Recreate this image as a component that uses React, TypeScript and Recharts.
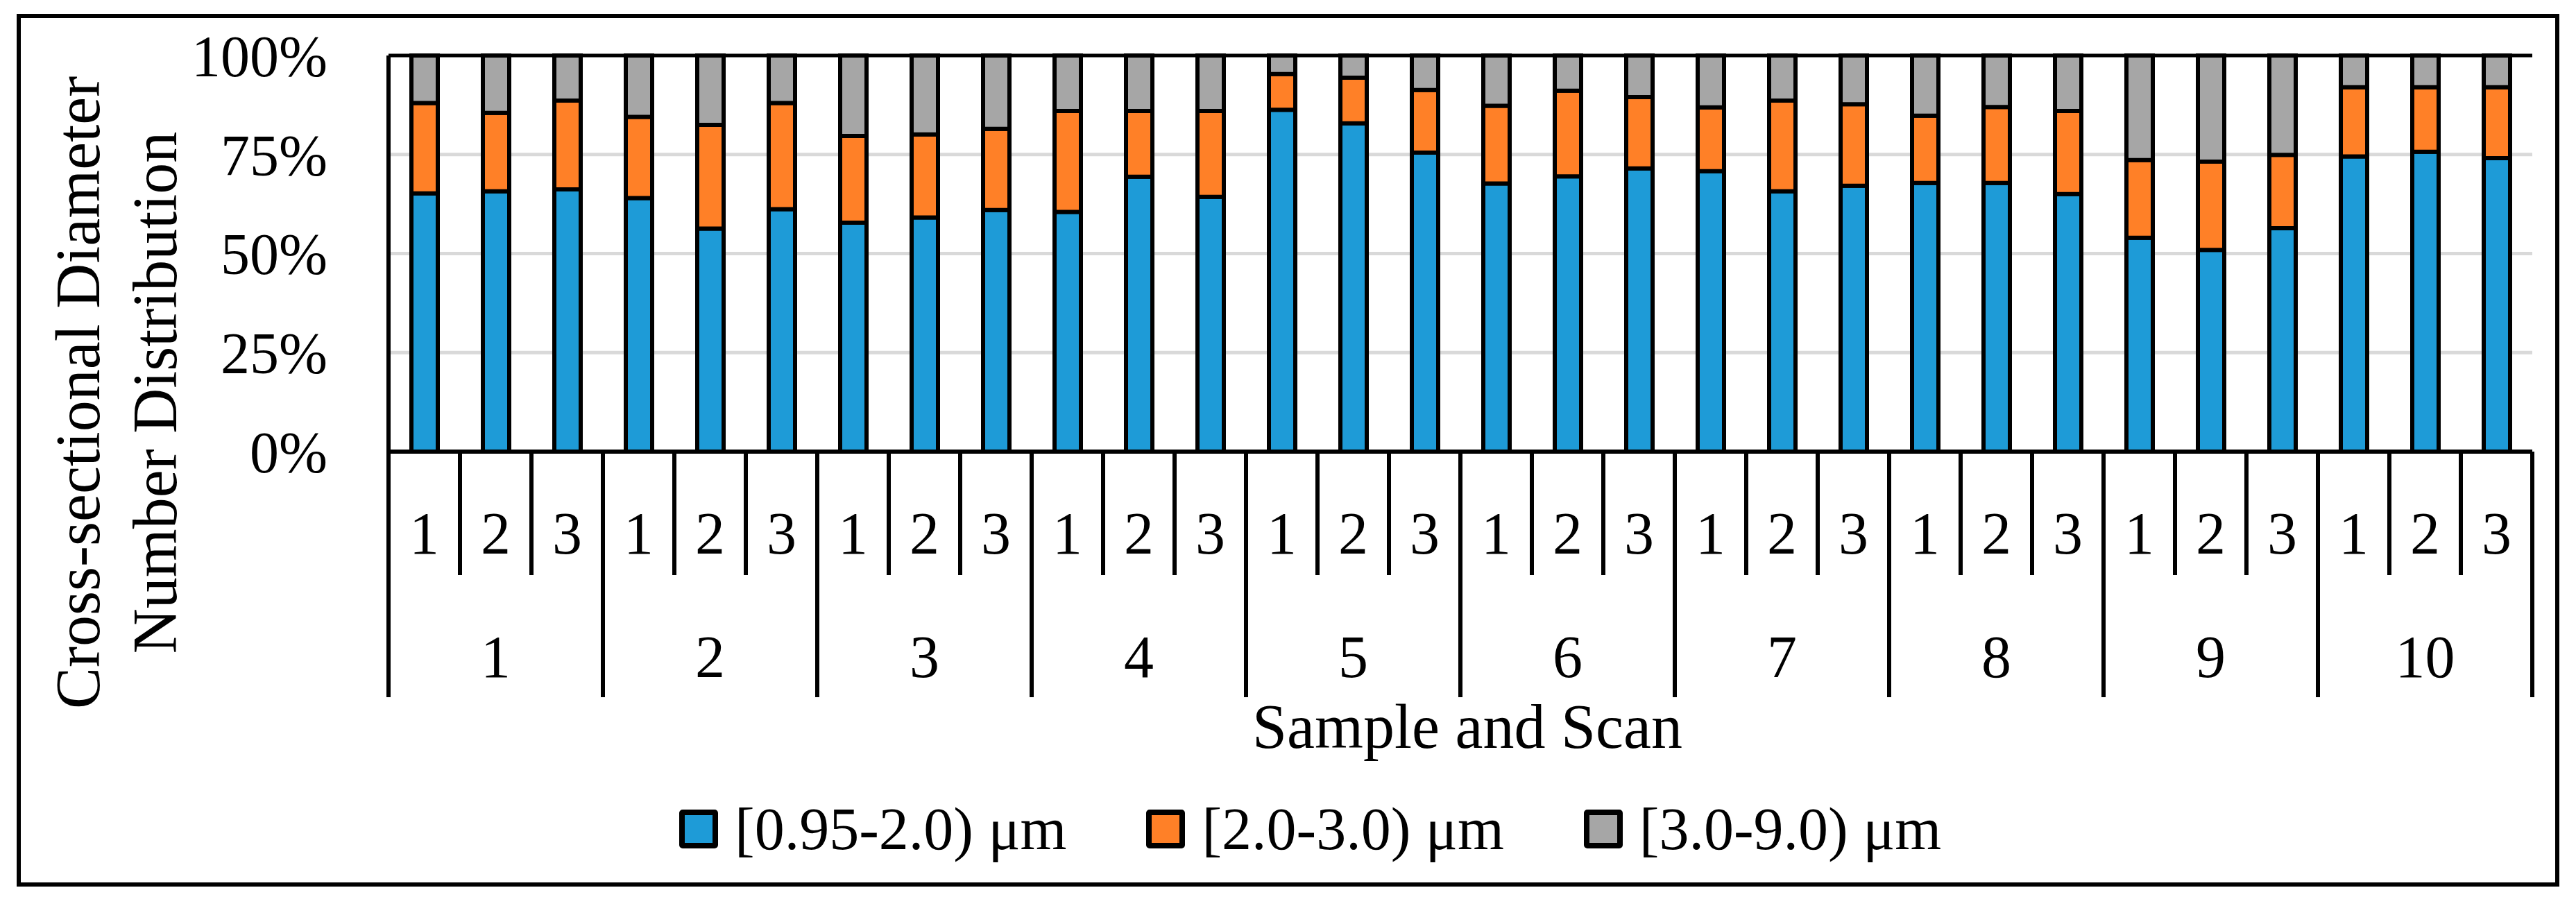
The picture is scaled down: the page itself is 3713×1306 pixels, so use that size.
import React from 'react';
import { BarChart, Bar, XAxis, YAxis, CartesianGrid, Legend, ReferenceLine } from 'recharts';

// categories
const SAMPLES = ['1', '2', '3', '4', '5', '6', '7', '8', '9', '10'];
const SCANS = ['1', '2', '3'];

// share of particles per size class, read per bar (sample 1 scan 1 ... sample 10 scan 3)
const SMALL = [
  65.2, 65.7, 66.2, 64.0, 56.3, 61.2, 57.8, 59.1, 61.0, 60.5,
  69.4, 64.3, 86.3, 82.9, 75.5, 67.7, 69.5, 71.5, 70.8, 65.7,
  67.1, 67.8, 67.8, 65.0, 54.0, 50.9, 56.4, 74.5, 75.7, 74.1,
];
const MEDIUM = [
  22.8, 19.8, 22.4, 20.5, 26.2, 26.8, 21.9, 21.0, 20.5, 25.5,
  16.6, 21.7, 9.0, 11.5, 15.8, 19.6, 21.6, 18.0, 16.1, 22.9,
  20.6, 17.0, 19.2, 21.0, 19.6, 22.3, 18.5, 17.5, 16.3, 17.9,
];
const LARGE = [
  12.0, 14.5, 11.4, 15.5, 17.5, 12.0, 20.3, 19.9, 18.5, 14.0,
  14.0, 14.0, 4.7, 5.6, 8.7, 12.7, 8.9, 10.5, 13.1, 11.4,
  12.3, 15.2, 13.0, 14.0, 26.4, 26.8, 25.1, 8.0, 8.0, 8.0,
];

const SERIES = [
  { key: 'small', name: '[0.95-2.0) μm', color: '#1E9BD7' },
  { key: 'medium', name: '[2.0-3.0) μm', color: '#FF8027' },
  { key: 'large', name: '[3.0-9.0) μm', color: '#A6A6A6' },
];

const Y_TICKS = [0, 0.25, 0.5, 0.75, 1];
const Y_TITLE = ['Cross-sectional Diameter', 'Number Distribution'];
const X_TITLE = 'Sample and Scan';

const data = SAMPLES.flatMap((sample, si) =>
  SCANS.map((scan, ci) => {
    const i = si * 3 + ci;
    return {
      key: `${sample}-${scan}`,
      sample,
      scan,
      small: SMALL[i],
      medium: MEDIUM[i],
      large: LARGE[i],
    };
  })
);

const W = 3713;
const H = 1306;
const FONT = '"Liberation Serif", serif';
const PLOT_LEFT = 560;
const PLOT_RIGHT = 3650;
const PLOT_TOP = 80;
const PLOT_BOTTOM = 651;
const BAND = (PLOT_RIGHT - PLOT_LEFT) / data.length;

const ScanTick = (props: any) => {
  const { x, payload } = props;
  const index = props.index ?? payload.index;
  const left = x - BAND / 2;
  const row = data[index];
  return (
    <g>
      <line x1={left} x2={left} y1={PLOT_BOTTOM} y2={index % 3 === 0 ? 1005 : 829} stroke="#000" strokeWidth={6} />
      {index === data.length - 1 && (
        <line x1={x + BAND / 2} x2={x + BAND / 2} y1={PLOT_BOTTOM} y2={1005} stroke="#000" strokeWidth={6} />
      )}
      <text x={x} y={798} textAnchor="middle" fontSize={86} fontFamily={FONT} fill="#000">
        {row.scan}
      </text>
      {index % 3 === 1 && (
        <text x={x} y={976} textAnchor="middle" fontSize={86} fontFamily={FONT} fill="#000">
          {row.sample}
        </text>
      )}
    </g>
  );
};

const YTitle = () => (
  <g>
    {Y_TITLE.map((t, i) => {
      const tx = 143 + i * 111;
      return (
        <text key={t} x={tx} y={566} transform={`rotate(-90 ${tx} 566)`} textAnchor="middle" fontSize={90} fontFamily={FONT} fill="#000">
          {t}
        </text>
      );
    })}
  </g>
);

const XTitle = () => (
  <text x={2115} y={1078} textAnchor="middle" fontSize={90} fontFamily={FONT} fill="#000">
    {X_TITLE}
  </text>
);

const LegendRow = ({ payload }: any) => (
  <div style={{ display: 'flex', alignItems: 'center', fontFamily: FONT, fontSize: 86, color: '#000', whiteSpace: 'nowrap' }}>
    {(payload || []).map((p: any, i: number) => (
      <div key={p.value} style={{ display: 'flex', alignItems: 'center', marginRight: i < payload.length - 1 ? 115 : 0 }}>
        <span style={{ display: 'inline-block', width: 56, height: 56, boxSizing: 'border-box', border: '8px solid #000', borderRadius: 5, background: p.color, marginRight: 24 }} />
        <span style={{ lineHeight: '70px' }}>{p.value}</span>
      </div>
    ))}
  </div>
);

export default function App() {
  return (
    <div style={{ position: 'absolute', left: 0, top: 0, width: W, height: H, background: '#fff' }}>
      <div style={{ position: 'absolute', left: 24, top: 20, width: 3665, height: 1258, border: '6px solid #000', boxSizing: 'border-box' }} />
      <BarChart
        width={W}
        height={H}
        data={data}
        stackOffset="expand"
        barSize={38}
        margin={{ top: PLOT_TOP, right: W - PLOT_RIGHT, left: 0, bottom: 0 }}
      >
        <CartesianGrid vertical={false} stroke="#D9D9D9" strokeWidth={5} />
        <XAxis
          dataKey="key"
          interval={0}
          height={H - PLOT_BOTTOM}
          tickLine={false}
          axisLine={{ stroke: '#000', strokeWidth: 6 }}
          tick={(p: any) => <ScanTick {...p} />}
          label={{ content: () => <XTitle /> }}
        />
        <YAxis
          width={PLOT_LEFT}
          domain={[0, 1]}
          ticks={Y_TICKS}
          interval={0}
          tickFormatter={(v: number) => `${Math.round(v * 100)}%`}
          tick={{ fill: '#000', fontSize: 84, fontFamily: FONT }}
          tickSize={0}
          tickMargin={88}
          tickLine={false}
          axisLine={{ stroke: '#000', strokeWidth: 6 }}
          label={{ content: () => <YTitle /> }}
        />
        <YAxis
          yAxisId="right"
          orientation="right"
          width={0}
          type="number"
          domain={[0, 1]}
          tick={false}
          tickLine={false}
          axisLine={{ stroke: '#000', strokeWidth: 6 }}
        />
        {SERIES.map((s) => (
          <Bar
            key={s.key}
            dataKey={s.key}
            name={s.name}
            stackId="size"
            fill={s.color}
            stroke="#000"
            strokeWidth={6}
            isAnimationActive={false}
          />
        ))}
        <ReferenceLine y={1} stroke="#000" strokeWidth={5} />
        <Legend
          verticalAlign="middle"
          align="center"
          layout="horizontal"
          wrapperStyle={{ position: 'absolute', top: 1160, left: 979, width: 'auto', height: 70 }}
          content={(p: any) => <LegendRow {...p} />}
        />
      </BarChart>
    </div>
  );
}
